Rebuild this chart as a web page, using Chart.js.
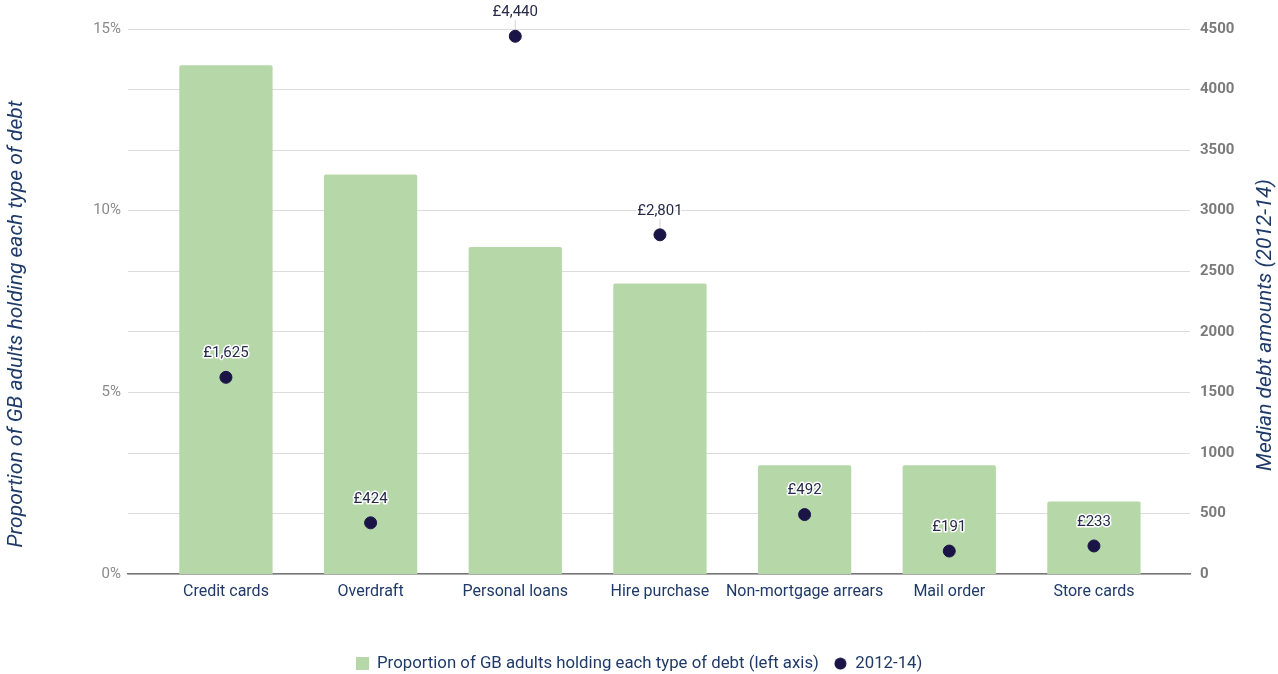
<!DOCTYPE html>
<html>
<head>
<meta charset="utf-8">
<script src="https://cdn.jsdelivr.net/npm/chart.js@4/dist/chart.umd.min.js"></script>
<style>
  html, body { margin: 0; padding: 0; background: #fff; }
  #wrap { width: 1278px; height: 674px; }
</style>
</head>
<body>
<div id="wrap"><canvas id="myChart" width="1278" height="674"></canvas></div>
<script>
const categories = ['Credit cards', 'Overdraft', 'Personal loans', 'Hire purchase', 'Non-mortgage arrears', 'Mail order', 'Store cards'];
const shareHolding = [14, 11, 9, 8, 3, 3, 2];           // % of GB adults, left axis
const medianDebt = [1625, 424, 4440, 2801, 492, 191, 233]; // £, right axis
const leftTicks = [0, 5, 10, 15];
const rightTicks = [0, 500, 1000, 1500, 2000, 2500, 3000, 3500, 4000, 4500];

const NAVY = '#1f3a68';
const DOT = '#1b1547';
const GREEN = '#b6d7a8';

// small legend markers drawn once on offscreen canvases
function marker(shape, color) {
  const c = document.createElement('canvas');
  c.width = 13; c.height = 13;
  const g = c.getContext('2d');
  g.fillStyle = color;
  if (shape === 'circle') {
    g.beginPath();
    g.arc(6.5, 6.5, 6, 0, Math.PI * 2);
    g.fill();
  } else {
    g.fillRect(0, 0, 13, 13);
  }
  return c;
}
const legendMarks = [marker('rect', GREEN), marker('circle', DOT)];

// value labels above the dots, with a white halo
const dotLabels = {
  id: 'dotLabels',
  afterDatasetsDraw(chart) {
    const ctx = chart.ctx;
    const meta = chart.getDatasetMeta(1);
    ctx.save();
    ctx.font = '15px Roboto';
    ctx.textAlign = 'center';
    ctx.textBaseline = 'middle';
    meta.data.forEach((pt, i) => {
      const txt = '£' + medianDebt[i].toLocaleString('en-GB');
      const y = pt.y - 24;
      ctx.strokeStyle = 'rgba(200,200,200,0.8)';
      ctx.lineWidth = 1;
      ctx.beginPath();
      ctx.moveTo(pt.x, y + 8);
      ctx.lineTo(pt.x, pt.y - 7);
      ctx.stroke();
      ctx.lineJoin = 'round';
      ctx.strokeStyle = '#fff';
      ctx.lineWidth = 3;
      ctx.strokeText(txt, pt.x, y);
      ctx.fillStyle = '#262a4a';
      ctx.fillText(txt, pt.x, y);
    });
    ctx.restore();
  }
};

// rotated axis titles
const axisTitles = {
  id: 'axisTitles',
  afterDraw(chart) {
    const ctx = chart.ctx;
    ctx.save();
    ctx.font = 'italic 21px Roboto';
    ctx.fillStyle = NAVY;
    ctx.textAlign = 'center';
    ctx.textBaseline = 'middle';
    [[17, 324, 'Proportion of GB adults holding each type of debt'],
     [1266, 325, 'Median debt amounts (2012-14)']].forEach(([x, y, t]) => {
      ctx.save();
      ctx.translate(x, y);
      ctx.rotate(-Math.PI / 2);
      ctx.fillText(t, 0, 0);
      ctx.restore();
    });
    ctx.restore();
  }
};

const ctx = document.getElementById('myChart').getContext('2d');
new Chart(ctx, {
  data: {
    datasets: [
      {
        type: 'bar',
        label: 'Proportion of GB adults holding each type of debt (left axis)',
        data: shareHolding.map((v, i) => ({ x: i, y: v })),
        backgroundColor: GREEN,
        borderRadius: 2,
        borderSkipped: 'bottom',
        categoryPercentage: 1,
        barPercentage: 0.645,
        yAxisID: 'y',
        order: 2
      },
      {
        type: 'scatter',
        label: '2012-14)',
        data: medianDebt.map((v, i) => ({ x: i, y: v })),
        backgroundColor: DOT,
        borderColor: DOT,
        pointRadius: 6,
        pointStyle: 'circle',
        yAxisID: 'y2',
        order: 1
      }
    ]
  },
  options: {
    responsive: false,
    animation: false,
    layout: { padding: { top: 29, left: 0, right: 0, bottom: -8 } },
    scales: {
      x: {
        type: 'linear',
        offset: false,
        min: -0.677,
        max: 6.664,
        afterBuildTicks: (s) => { s.ticks = categories.map((c, i) => ({ value: i })); },
        afterFit: (s) => { s.height = 66; },
        grid: { display: false, offset: false, drawTicks: false },
        border: { display: true, color: '#777', width: 1.5 },
        ticks: {
          padding: 8,
          maxRotation: 0,
          autoSkip: false,
          color: NAVY,
          font: { family: 'Roboto', size: 16 },
          callback: (v) => categories[v]
        }
      },
      y: {
        position: 'left',
        min: 0,
        max: 15,
        afterBuildTicks: (s) => { s.ticks = leftTicks.map(v => ({ value: v })); },
        afterFit: (s) => { s.width = 128; },
        grid: { display: false, drawTicks: false },
        border: { display: false },
        ticks: {
          padding: 7,
          color: '#8a8a8a',
          font: { family: 'Roboto', size: 15 },
          callback: (v) => v + '%'
        }
      },
      y2: {
        position: 'right',
        min: 0,
        max: 4500,
        afterBuildTicks: (s) => { s.ticks = rightTicks.map(v => ({ value: v })); },
        afterFit: (s) => { s.width = 88; },
        grid: { display: true, color: '#dcdcdc', lineWidth: 1, drawTicks: false },
        border: { display: false },
        ticks: {
          padding: 10,
          color: '#7a7a7a',
          font: { family: 'Roboto', size: 15, weight: 'bold' },
          callback: (v) => String(v)
        }
      }
    },
    plugins: {
      legend: {
        position: 'bottom',
        labels: {
          usePointStyle: true,
          boxWidth: 13,
          boxHeight: 13,
          padding: 15,
          color: NAVY,
          font: { family: 'Roboto', size: 16.8 },
          generateLabels: (chart) => chart.data.datasets.map((d, i) => ({
            text: d.label,
            fillStyle: d.backgroundColor,
            strokeStyle: d.backgroundColor,
            lineWidth: 0,
            pointStyle: legendMarks[i],
            datasetIndex: i,
            fontColor: NAVY
          }))
        }
      },
      tooltip: { enabled: false }
    }
  },
  plugins: [dotLabels, axisTitles]
});
</script>
</body>
</html>
